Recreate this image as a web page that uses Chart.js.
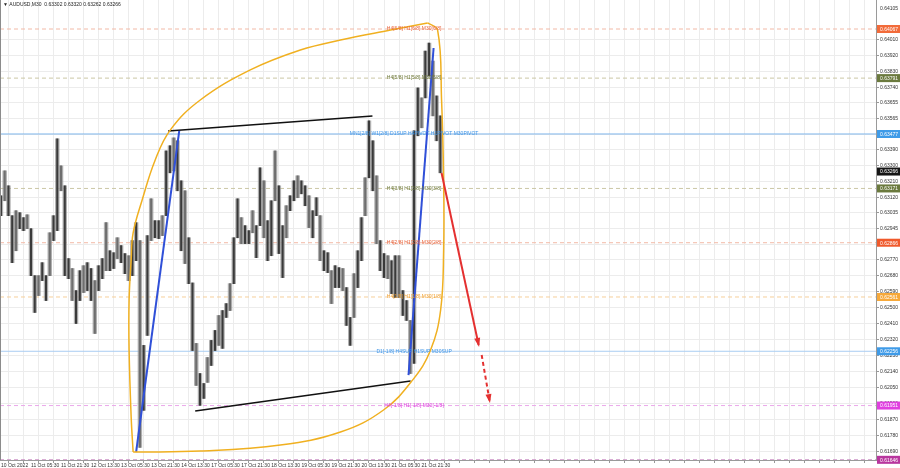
<!DOCTYPE html>
<html lang="en">
<head>
<meta charset="UTF-8">
<title>AUDUSD M30</title>
<script src="https://cdn.jsdelivr.net/npm/chart.js"></script>
<style>
  html, body { margin: 0; padding: 0; background: #fff; }
</style>
</head>
<body>
<canvas id="myChart" width="900" height="468"></canvas>
<script>
// values: one sample every 4 M30 bars
const chartTitle = '\u25BC AUDUSD,M30  0.63302 0.63320 0.63262 0.63266';
const barStep = 4;
const highs = [
  0.63130, 0.63270, 0.63186, 0.63018, 0.63046, 0.63035, 0.63007, 0.63023, 0.62945, 0.62681,
  0.62681, 0.62754, 0.62681, 0.62922, 0.63018, 0.63450, 0.63298, 0.63186, 0.62777, 0.62721,
  0.62597, 0.62709, 0.62737, 0.62754, 0.62721, 0.62653, 0.62737, 0.62777, 0.62979, 0.62821,
  0.62810, 0.62894, 0.62850, 0.62805, 0.62793, 0.62878, 0.62979, 0.62878, 0.62289, 0.62906,
  0.63113, 0.62990, 0.62990, 0.63018, 0.63382, 0.63411, 0.63455, 0.63439, 0.63214, 0.63158,
  0.62894, 0.62640, 0.62300, 0.62131, 0.62075, 0.62221, 0.62317, 0.62373, 0.62457, 0.62485,
  0.62524, 0.62636, 0.62894, 0.63113, 0.63007, 0.62962, 0.62934, 0.63046, 0.62962, 0.63287,
  0.63214, 0.62990, 0.63102, 0.63382, 0.63186, 0.62962, 0.63074, 0.63130, 0.63214, 0.63242,
  0.63214, 0.63186, 0.63130, 0.63046, 0.63119, 0.63018, 0.62821, 0.62810, 0.62709, 0.62737,
  0.62726, 0.62721, 0.62614, 0.62446, 0.62692, 0.62821, 0.63007, 0.63231, 0.63551, 0.63439,
  0.63242, 0.62878, 0.62805, 0.62793, 0.62765, 0.62793, 0.62793, 0.62597, 0.62541, 0.62429,
  0.63495, 0.63736, 0.63680, 0.63943, 0.63988, 0.63887, 0.63691, 0.63579
];
const lows = [
  0.63018, 0.63102, 0.63018, 0.62754, 0.62821, 0.62945, 0.62934, 0.62945, 0.62681, 0.62474,
  0.62569, 0.62653, 0.62541, 0.62681, 0.62878, 0.62934, 0.63158, 0.62681, 0.62664, 0.62541,
  0.62412, 0.62541, 0.62586, 0.62597, 0.62541, 0.62356, 0.62597, 0.62664, 0.62709, 0.62709,
  0.62721, 0.62777, 0.62754, 0.62692, 0.62653, 0.62681, 0.62765, 0.61716, 0.61924, 0.62345,
  0.62878, 0.62894, 0.62889, 0.62906, 0.63018, 0.63259, 0.63270, 0.63158, 0.62821, 0.62749,
  0.62636, 0.62260, 0.62064, 0.61952, 0.61991, 0.62081, 0.62176, 0.62260, 0.62289, 0.62272,
  0.62446, 0.62485, 0.62636, 0.62894, 0.62861, 0.62861, 0.62861, 0.62922, 0.62782, 0.62962,
  0.62894, 0.62765, 0.62793, 0.63102, 0.62805, 0.62670, 0.62894, 0.63046, 0.63102, 0.63119,
  0.63141, 0.63074, 0.62951, 0.62894, 0.63018, 0.62765, 0.62709, 0.62698, 0.62524, 0.62614,
  0.62614, 0.62597, 0.62401, 0.62289, 0.62446, 0.62614, 0.62765, 0.63018, 0.63231, 0.63158,
  0.62861, 0.62709, 0.62670, 0.62664, 0.62580, 0.62558, 0.62558, 0.62457, 0.62429, 0.62131,
  0.62188, 0.63467, 0.63512, 0.63680, 0.63803, 0.63579, 0.63439, 0.63259
];
const lastPrice = 0.63266;

const xTickLabels = ['10 Oct 2022', '11 Oct 05:30', '11 Oct 21:30', '12 Oct 13:30', '13 Oct 05:30',
  '13 Oct 21:30', '14 Oct 13:30', '17 Oct 05:30', '17 Oct 21:30', '18 Oct 13:30', '19 Oct 05:30',
  '19 Oct 21:30', '20 Oct 13:30', '21 Oct 05:30', '21 Oct 21:30'];
const yTickValues = [0.64010, 0.63920, 0.63830, 0.63740, 0.63655, 0.63565, 0.63475, 0.63390, 0.63300,
  0.63210, 0.63120, 0.63035, 0.62945, 0.62855, 0.62770, 0.62680, 0.62590, 0.62500, 0.62410, 0.62320,
  0.62230, 0.62140, 0.62050, 0.61960, 0.61870, 0.61780, 0.61690];
const yTopLabel = '0.64105';

// murrey levels
const levelValues = [0.64067, 0.63791, 0.63477, 0.63171, 0.62866, 0.62561, 0.62256, 0.61951, 0.61646];
const levelNames = ['H4[6/8] H1[6/8] M30[6/8]', 'H4[5/8] H1[5/8] M30[5/8]',
  'MN1[2/8] W1[2/8] D1SUP H4PIVOT H1PIVOT M30PIVOT', 'H4[3/8] H1[3/8] M30[3/8]',
  'H4[2/8] H1[2/8] M30[2/8]', 'H4[1/8] H1[1/8] M30[1/8]', 'D1[-1/8] H4SUP H1SUP M30SUP',
  'H4[-1/8] H1[-1/8] M30[-1/8]', ''];

// drawn objects, [bar, price]
const arcUpper = [[140.8, 0.61690], [138.7, 0.61886], [136.5, 0.62263], [136.5, 0.62544], [138.7, 0.62769],
  [140.8, 0.62921], [150.4, 0.63106], [164.3, 0.63331], [180.3, 0.63499], [212.3, 0.63668],
  [265.6, 0.63837], [318.9, 0.63949], [361.6, 0.64005], [414.9, 0.64061], [454.4, 0.64101]];
const arcLower = [[454.4, 0.64101], [465.1, 0.64061], [469.3, 0.63668], [471.5, 0.63218], [471.5, 0.62825],
  [468.3, 0.62488], [457.6, 0.62263], [438.4, 0.62094], [407.5, 0.61926], [361.6, 0.61802],
  [297.6, 0.61729], [212.3, 0.61695], [140.8, 0.61690]];
const blueLine1 = [[144.0, 0.61690], [189.9, 0.63494]];
const blueLine2 = [[434.1, 0.62122], [460.8, 0.63960]];
const channelTop = [[178.1, 0.63494], [395.7, 0.63578]];
const channelBottom = [[206.9, 0.61920], [436.3, 0.62089]];
const forecastSolid = [[469.3, 0.63258], [508.8, 0.62291]];
const forecastDashed = [[512.0, 0.62235], [520.5, 0.61976]];

const levelStyles = [
  { line: '#f2b9a6', text: '#e8643c', box: '#f26b3a', dash: [4, 3] },
  { line: '#cbc7a6', text: '#6f7a3c', box: '#6b7a3e', dash: [4, 3] },
  { line: '#7fb6ec', text: '#3f95e6', box: '#3f9be8', dash: [] },
  { line: '#cbc7a6', text: '#6f7a3c', box: '#6b7a3e', dash: [4, 3] },
  { line: '#f2b9a6', text: '#e8643c', box: '#f05a2c', dash: [4, 3] },
  { line: '#f6cf9a', text: '#f0a030', box: '#f7a93a', dash: [4, 3] },
  { line: '#a9cdf2', text: '#3f95e6', box: '#3f9be8', dash: [] },
  { line: '#eaa8ea', text: '#e03ce0', box: '#e040e0', dash: [4, 3] },
  { line: '#c88ac0', text: '#b0359a', box: '#b8369e', dash: [4, 3] }
];
const X_MIN = -1, X_MAX = 932, CAPTION_BAR = 440;
const FONT = '"Liberation Sans", Arial, sans-serif';

const toPts = arr => arr.map(p => ({ x: p[0], y: p[1] }));
const lineDs = (pts, color, width, extra) => Object.assign({
  type: 'line', data: toPts(pts), borderColor: color, borderWidth: width,
  pointRadius: 0, fill: false, order: 1
}, extra || {});

const candleRanges = highs.map((h, i) => ({ x: i * barStep, y: [lows[i], h] }));

const datasets = [];
levelValues.forEach((v, k) => {
  datasets.push({
    type: 'line', data: [{ x: X_MIN, y: v }, { x: X_MAX, y: v }],
    borderColor: levelStyles[k].line, borderWidth: 1, borderDash: levelStyles[k].dash,
    pointRadius: 0, fill: false, order: 5
  });
});
// light fringe of the candles, then the dark core
datasets.push({
  type: 'bar', data: candleRanges, grouped: false,
  backgroundColor: 'rgba(150,150,150,0.75)', barThickness: 3.8, order: 4
});
datasets.push({
  type: 'bar', data: candleRanges, grouped: false,
  backgroundColor: highs.map((h, i) => (i % 3 === 1 ? '#6e6e6e' : '#3a3a3a')),
  barThickness: 1.4, order: 3
});
datasets.push(lineDs(arcUpper, '#f0b020', 1.5, { tension: 0.4 }));
datasets.push(lineDs(arcLower, '#f0b020', 1.5, { tension: 0.4 }));
datasets.push(lineDs(blueLine1, '#3050d8', 2));
datasets.push(lineDs(blueLine2, '#3050d8', 2));
datasets.push(lineDs(channelTop, '#111111', 1.6));
datasets.push(lineDs(channelBottom, '#111111', 1.6));
datasets.push(lineDs(forecastSolid, '#e43030', 2, { arrow: true, order: 0 }));
datasets.push(lineDs(forecastDashed, '#e43030', 2, { arrow: true, borderDash: [4, 3], order: 0 }));

const mtOverlay = {
  id: 'mtOverlay',
  afterDatasetsDraw(chart) {
    const { ctx, scales: { x, y } } = chart;
    ctx.save();
    ctx.font = '5px ' + FONT;
    ctx.textAlign = 'center';
    ctx.textBaseline = 'middle';
    levelValues.forEach((v, k) => {
      if (!levelNames[k]) return;
      ctx.fillStyle = levelStyles[k].text;
      ctx.fillText(levelNames[k], x.getPixelForValue(CAPTION_BAR), y.getPixelForValue(v));
    });
    // arrow heads
    chart.data.datasets.forEach((ds, k) => {
      if (!ds.arrow) return;
      const pts = chart.getDatasetMeta(k).data;
      const p1 = pts[pts.length - 2], p2 = pts[pts.length - 1];
      const a = Math.atan2(p2.y - p1.y, p2.x - p1.x);
      const len = 7, w = 3;
      ctx.fillStyle = ds.borderColor;
      ctx.beginPath();
      ctx.moveTo(p2.x + 2 * Math.cos(a), p2.y + 2 * Math.sin(a));
      ctx.lineTo(p2.x - len * Math.cos(a) + w * Math.sin(a), p2.y - len * Math.sin(a) - w * Math.cos(a));
      ctx.lineTo(p2.x - len * Math.cos(a) - w * Math.sin(a), p2.y - len * Math.sin(a) + w * Math.cos(a));
      ctx.closePath();
      ctx.fill();
    });
    ctx.restore();
  },
  afterDraw(chart) {
    const { ctx, chartArea: area, scales: { y } } = chart;
    ctx.save();
    // left frame line
    ctx.strokeStyle = '#8c8c8c';
    ctx.lineWidth = 1;
    ctx.beginPath();
    ctx.moveTo(0.5, area.top);
    ctx.lineTo(0.5, area.bottom);
    ctx.stroke();

    ctx.font = '5px ' + FONT;
    ctx.textBaseline = 'middle';
    ctx.textAlign = 'left';
    // top scale label
    ctx.fillStyle = '#333';
    ctx.fillText(yTopLabel, area.right + 4, 9);

    const box = (v, bg) => {
      const py = y.getPixelForValue(v);
      ctx.fillStyle = bg;
      ctx.fillRect(area.right + 1, py - 4, chart.width - area.right - 1, 8);
      ctx.fillStyle = '#ffffff';
      ctx.fillText(v.toFixed(5), area.right + 4, py + 0.5);
    };
    levelValues.forEach((v, k) => box(v, levelStyles[k].box));
    box(lastPrice, '#151515');

    // title
    ctx.fillStyle = '#222';
    ctx.fillText(chartTitle, 3, 5);
    ctx.restore();
  }
};

new Chart(document.getElementById('myChart'), {
  type: 'bar',
  data: { datasets: datasets },
  plugins: [mtOverlay],
  options: {
    responsive: false,
    animation: false,
    devicePixelRatio: 1,
    layout: { padding: 0 },
    plugins: { legend: { display: false }, tooltip: { enabled: false } },
    scales: {
      x: {
        type: 'linear', min: X_MIN, max: X_MAX, offset: false,
        grid: { color: '#ececec', tickLength: 3, tickColor: '#999' },
        border: { color: '#9a9a9a' },
        ticks: {
          autoSkip: false, maxRotation: 0, align: 'start', padding: 0,
          color: '#333', font: { size: 5, family: FONT },
          callback: v => (v % 32 === 0 && xTickLabels[v / 32] !== undefined) ? xTickLabels[v / 32] : ''
        },
        afterBuildTicks: s => {
          const t = [];
          for (let v = 0; v <= 928; v += 16) t.push({ value: v });
          s.ticks = t;
        },
        afterFit: s => { s.height = 8; s.paddingLeft = 0; s.paddingRight = 0; }
      },
      y: {
        type: 'linear', position: 'right', min: 0.61645, max: 0.64230,
        grid: { color: '#ececec', tickLength: 3, tickColor: '#999' },
        border: { color: '#9a9a9a' },
        ticks: {
          padding: 1, color: '#333', font: { size: 5, family: FONT },
          callback: v => v.toFixed(5)
        },
        afterBuildTicks: s => { s.ticks = yTickValues.map(v => ({ value: v })); },
        afterFit: s => { s.width = 24; s.paddingTop = 0; s.paddingBottom = 0; }
      }
    }
  }
});
</script>
</body>
</html>
